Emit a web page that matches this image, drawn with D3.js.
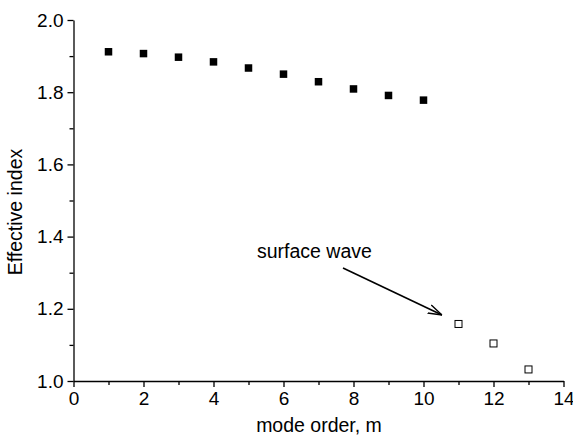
<!DOCTYPE html>
<html lang="en">
<head>
  <meta charset="UTF-8">
  <title>Effective index vs mode order</title>
  <script src="https://d3js.org/d3.v7.min.js"></script>
  <style>
    body { margin: 0; background: #fff; }
    text { font-family: "Liberation Sans", Arial, sans-serif; fill: #000; }
    .axis path, .axis line { stroke: #000; stroke-width: 1.3; }
    .axis text { font-size: 19px; }
  </style>
</head>
<body>
<svg width="573" height="437"></svg>
<script>
  // guided modes (filled) and surface wave modes (open)
  const guidedM = [1, 2, 3, 4, 5, 6, 7, 8, 9, 10];
  const guidedN = [1.912, 1.907, 1.897, 1.884, 1.867, 1.850, 1.829, 1.809, 1.791, 1.778];
  const surfaceM = [11, 12, 13];
  const surfaceN = [1.158, 1.104, 1.032];

  const xTicks = [0, 2, 4, 6, 8, 10, 12, 14];
  const yTicks = [1.0, 1.2, 1.4, 1.6, 1.8, 2.0];

  const svg = d3.select("svg");
  const plotL = 73.5, plotR = 563.5, plotT = 20, plotB = 381;

  const x = d3.scaleLinear().domain([0, 14]).range([plotL, plotR]);
  const y = d3.scaleLinear().domain([1.0, 2.0]).range([plotB, plotT]);

  // minor ticks first (no labels)
  svg.append("g")
    .attr("class", "axis")
    .attr("transform", `translate(0,${plotB})`)
    .call(d3.axisBottom(x).tickValues(d3.range(1, 14, 2)).tickSize(4).tickFormat(""))
    .select(".domain").remove();
  svg.append("g")
    .attr("class", "axis")
    .attr("transform", `translate(${plotL},0)`)
    .call(d3.axisLeft(y).tickValues(d3.range(1.1, 2.0, 0.2)).tickSize(4).tickFormat(""))
    .select(".domain").remove();

  // major axes
  svg.append("g")
    .attr("class", "axis")
    .attr("transform", `translate(0,${plotB})`)
    .call(d3.axisBottom(x).tickValues(xTicks).tickSize(6).tickSizeOuter(0).tickPadding(5).tickFormat(d3.format("d")));
  svg.append("g")
    .attr("class", "axis")
    .attr("transform", `translate(${plotL},0)`)
    .call(d3.axisLeft(y).tickValues(yTicks).tickSize(6).tickSizeOuter(0).tickPadding(4).tickFormat(d3.format(".1f")));

  // filled squares
  svg.selectAll(".guided")
    .data(guidedM)
    .enter()
    .append("rect")
    .attr("x", d => x(d) - 3.75)
    .attr("y", (d, i) => y(guidedN[i]) - 3.75)
    .attr("width", 7.5)
    .attr("height", 7.5)
    .attr("fill", "#000");

  // open squares
  svg.selectAll(".surface")
    .data(surfaceM)
    .enter()
    .append("rect")
    .attr("x", d => x(d) - 3.5)
    .attr("y", (d, i) => y(surfaceN[i]) - 3.5)
    .attr("width", 7)
    .attr("height", 7)
    .attr("fill", "#fff")
    .attr("stroke", "#000")
    .attr("stroke-width", 1);

  // annotation arrow
  svg.append("defs").append("marker")
    .attr("id", "arr")
    .attr("viewBox", "0 0 14 10")
    .attr("refX", 14).attr("refY", 5)
    .attr("markerWidth", 14).attr("markerHeight", 10)
    .attr("markerUnits", "userSpaceOnUse")
    .attr("orient", "auto")
    .append("path")
    .attr("d", "M0,0.5 L14,5 L0,9.5")
    .attr("fill", "none")
    .attr("stroke", "#000")
    .attr("stroke-width", 1.4);

  svg.append("line")
    .attr("x1", 343).attr("y1", 268)
    .attr("x2", 442).attr("y2", 315)
    .attr("stroke", "#000")
    .attr("stroke-width", 1.6)
    .attr("marker-end", "url(#arr)");

  svg.append("text")
    .attr("x", 257).attr("y", 258)
    .style("font-size", "19.5px")
    .text("surface wave");

  // axis titles
  svg.append("text")
    .attr("x", 319).attr("y", 432)
    .attr("text-anchor", "middle")
    .style("font-size", "19.5px")
    .text("mode order, m");

  svg.append("text")
    .attr("transform", "translate(22,212) rotate(-90)")
    .attr("text-anchor", "middle")
    .style("font-size", "19.5px")
    .text("Effective index");
</script>
</body>
</html>
